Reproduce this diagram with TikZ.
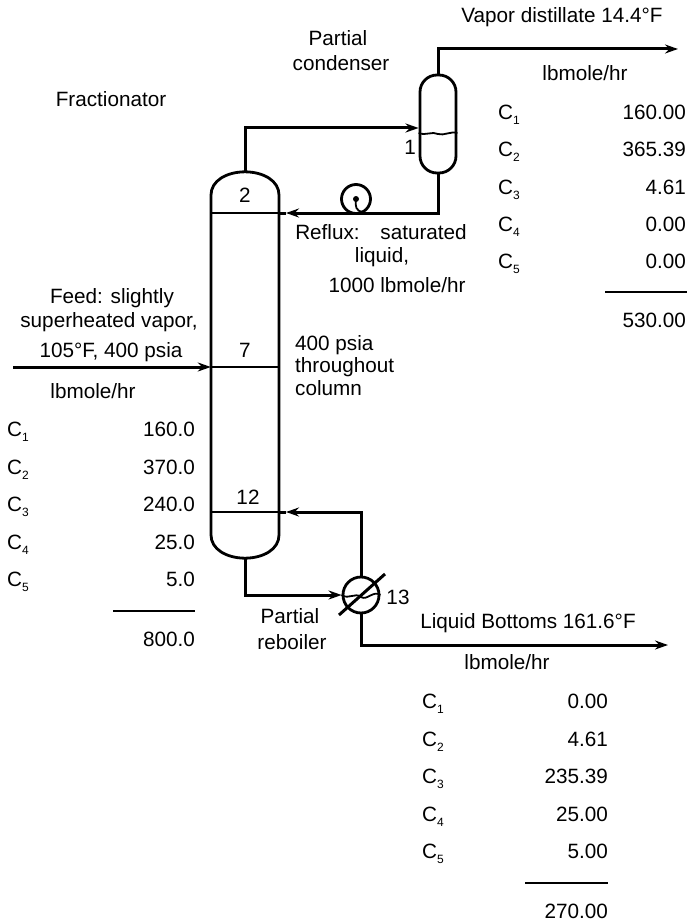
\documentclass[tikz,border=0pt]{standalone}
\usepackage{fontspec}
\setmainfont{Liberation Sans}
\usetikzlibrary{positioning, arrows.meta, calc}
\newcommand{\compname}[1]{C\raisebox{-5pt}{\fontsize{12}{12}\selectfont #1}}

\begin{document}
\begin{tikzpicture}[
    x=1pt,y=-1pt,
    >={Stealth[length=13pt,width=9pt]},
    node distance = 0pt,
    every node/.style={font=\fontsize{20.7}{24}\selectfont, inner sep=0pt},
    stream/.style={line width=3pt, line join=miter},
    vessel/.style={line width=2.8pt},
    tray/.style={line width=1.8pt},
    rule/.style={line width=1.3pt},
    columnbox/.style={minimum width=68pt, minimum height=386pt},
    condenserbox/.style={draw, line width=2.8pt, minimum width=36pt, minimum height=98pt, rounded corners=17pt},
    pumpbox/.style={draw, circle, line width=2.8pt, minimum size=29pt},
    reboilerbox/.style={draw, circle, line width=2.8pt, minimum size=36pt},
    comp/.style={minimum height=37.2pt, text height=15pt, text depth=0pt},
    val/.style={minimum height=37.2pt, text height=15pt, text depth=0pt, text width=90pt, align=right},
    vaprow/.style={minimum height=36.9pt},
]
\useasboundingbox (0,0) rectangle (688,923);

% equipment
\node[columnbox] (column) at (245,365) {};
\node[condenserbox] (condenser) at (438,124) {};
\node[pumpbox] (pump) at (356,199) {};
\node[reboilerbox] (reboiler) at (361,595) {};
\coordinate (dot) at (356,199);
\coordinate (vaporcorner) at (438,49);
\coordinate (vaporend) at (678,49);
\coordinate (overcorner) at (245,128);
\coordinate (refluxcorner) at (438,213);
\coordinate (refluxtip) at (286,213);
\coordinate (feedstart) at (13,367);
\coordinate (bottomcorner) at (245,595);
\coordinate (boilcorner) at (361,512);
\coordinate (boiltip) at (286,512);
\coordinate (liquidcorner) at (361,645);
\coordinate (liquidend) at (668,645);
\coordinate (slashlow) at (339,615);
\coordinate (slashhigh) at (385,574);

% column shell
\draw[vessel] (211,195) .. controls (211,181) and (226,172) .. (column.north)
    .. controls (264,172) and (279,181) .. (279,195) -- (279,535)
    .. controls (279,549) and (264,558) .. (column.south)
    .. controls (226,558) and (211,549) .. (211,535) -- cycle;
\draw[tray] (column.west |- refluxtip) -- (column.east |- refluxtip);
\draw[tray] (column.west |- feedstart) -- (column.east |- feedstart);
\draw[tray] (column.west |- boiltip) -- (column.east |- boiltip);

% streams
\draw[stream,->] (column.north) -- (overcorner) -- (condenser.west |- overcorner);
\draw[stream,->] (condenser.north) -- (vaporcorner) -- (vaporend);
\draw[stream,->] (condenser.south) -- (refluxcorner) -- (refluxtip);
\draw[stream] (refluxtip) -- (column.east |- refluxtip);
\draw[stream,->] (feedstart) -- (column.west |- feedstart);
\draw[stream,->] (column.south) -- (bottomcorner) -- (reboiler.west);
\draw[stream,->] (reboiler.north) -- (boilcorner) -- (boiltip);
\draw[stream] (boiltip) -- (column.east |- boiltip);
\draw[stream,->] (reboiler.south) -- (liquidcorner) -- (liquidend);
\draw[stream] (slashlow) -- (slashhigh);

% liquid levels
\draw[tray] (condenser.west |- 0,133) .. controls (426,136) and (432,131) .. (438,134)
    .. controls (444,136) and (450,131) .. (condenser.east |- 0,133);
\draw[tray] (reboiler.west) .. controls (349,600) and (355,592) .. (361,597)
    .. controls (367,601) and (373,590) .. (reboiler.east);
\fill (dot) circle (3);
\draw[tray] (dot) .. controls (355,207) and (356,211) .. (363,212);

% labels
\node (vaporlabel) at (562,17) {Vapor distillate 14.4°F};
\node (partiala) at (338,38) {Partial};
\node (partialb) at (341,63) {condenser};
\node (fractionator) at (111,99) {Fractionator};
\node (stagea) at (410,147) {1};
\node (stageb) at (245,195) {2};
\node (stagec) at (245,350) {7};
\node (staged) at (248,497) {12};
\node (stagee) at (398,597) {13};
\node (refluxa) at (381,232) {Reflux:\enspace\enspace saturated};
\node (refluxb) at (382,257) {liquid,};
\node (refluxc) at (397,285) {1000 lbmole/hr};
\node (feeda) at (112,298) {Feed: slightly};
\node (feedb) at (109,322) {superheated vapor,};
\node (feedc) at (111,352) {105°F, 400 psia};
\node[anchor=west] (pressa) at (295,345) {400 psia};
\node[anchor=west] (pressb) at (295,367) {throughout};
\node[anchor=west] (pressc) at (295,388) {column};
\node (partialc) at (290,616) {Partial};
\node (partiald) at (292,642) {reboiler};
\node (liquidlabel) at (528,623) {Liquid Bottoms 161.6°F};

% distillate table
\node (vapunit) at (585,73) {lbmole/hr};
\node[comp, vaprow] (vapa) at (509,112) {\compname{1}};
\node[comp, vaprow, below=of vapa] (vapb) {\compname{2}};
\node[comp, vaprow, below=of vapb] (vapc) {\compname{3}};
\node[comp, vaprow, below=of vapc] (vapd) {\compname{4}};
\node[comp, vaprow, below=of vapd] (vape) {\compname{5}};
\node[val, vaprow] (vapaval) at (641,112) {160.00};
\node[val, vaprow, below=of vapaval] (vapbval) {365.39};
\node[val, vaprow, below=of vapbval] (vapcval) {4.61};
\node[val, vaprow, below=of vapcval] (vapdval) {0.00};
\node[val, vaprow, below=of vapdval] (vapeval) {0.00};
\node[val] (vaptotal) at (641,320) {530.00};
\coordinate (vaprulea) at (605,292);
\coordinate (vapruleb) at (687,292);
\draw[rule] (vaprulea) -- (vapruleb);

% feed table
\node (feedunit) at (93,391) {lbmole/hr};
\node[comp] (feedcompa) at (18,429) {\compname{1}};
\node[comp, below=of feedcompa] (feedcompb) {\compname{2}};
\node[comp, below=of feedcompb] (feedcompc) {\compname{3}};
\node[comp, below=of feedcompc] (feedcompd) {\compname{4}};
\node[comp, below=of feedcompd] (feedcompe) {\compname{5}};
\node[val] (feedvala) at (150,429) {160.0};
\node[val, below=of feedvala] (feedvalb) {370.0};
\node[val, below=of feedvalb] (feedvalc) {240.0};
\node[val, below=of feedvalc] (feedvald) {25.0};
\node[val, below=of feedvald] (feedvale) {5.0};
\node[val] (feedtotal) at (150,639) {800.0};
\coordinate (feedrulea) at (113,611);
\coordinate (feedruleb) at (195,611);
\draw[rule] (feedrulea) -- (feedruleb);

% bottoms table
\node (liqunit) at (507,662) {lbmole/hr};
\node[comp] (liqa) at (433,701) {\compname{1}};
\node[comp, below=of liqa] (liqb) {\compname{2}};
\node[comp, below=of liqb] (liqc) {\compname{3}};
\node[comp, below=of liqc] (liqd) {\compname{4}};
\node[comp, below=of liqd] (liqe) {\compname{5}};
\node[val] (liqaval) at (563,701) {0.00};
\node[val, below=of liqaval] (liqbval) {4.61};
\node[val, below=of liqbval] (liqcval) {235.39};
\node[val, below=of liqcval] (liqdval) {25.00};
\node[val, below=of liqdval] (liqeval) {5.00};
\node[val] (liqtotal) at (563,911) {270.00};
\coordinate (liqrulea) at (525,883);
\coordinate (liqruleb) at (608,883);
\draw[rule] (liqrulea) -- (liqruleb);
\end{tikzpicture}
\end{document}
